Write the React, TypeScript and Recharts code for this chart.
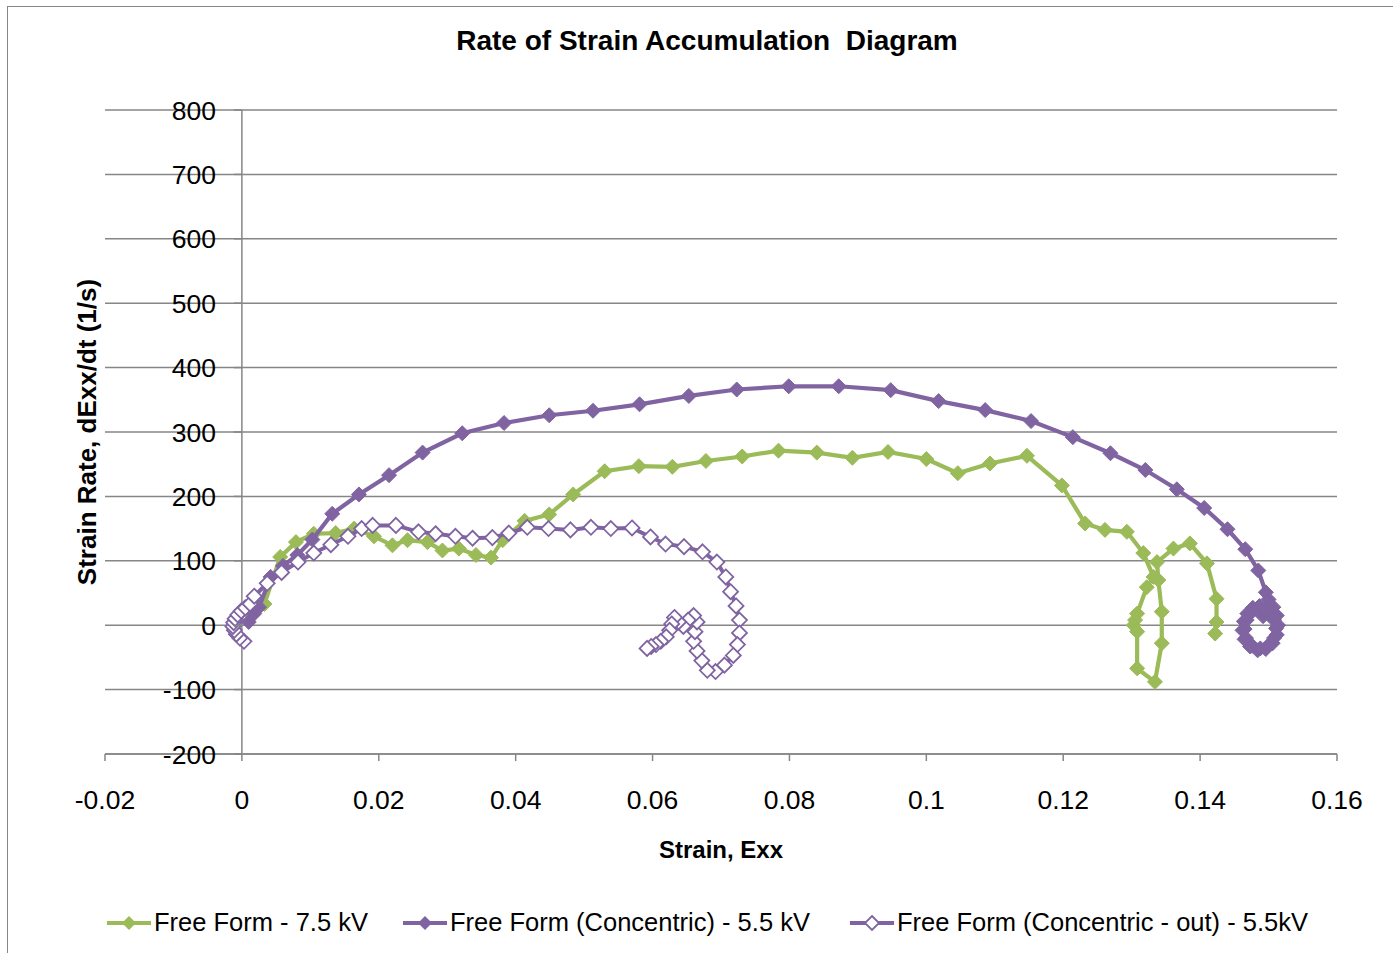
import React from 'react';
import { ScatterChart, Scatter, XAxis, YAxis, CartesianGrid, ReferenceLine } from 'recharts';

const GREEN = '#9BBB59';
const PURPLE = '#8064A2';
const GRID = '#868686';
const FONT = '"Liberation Sans", Arial, sans-serif';

const X_MIN = -0.02;
const X_MAX = 0.16;
const Y_MIN = -200;
const Y_MAX = 800;

const xTicks = [-0.02, 0, 0.02, 0.04, 0.06, 0.08, 0.1, 0.12, 0.14, 0.16];
const xTickLabels = ['-0.02', '0', '0.02', '0.04', '0.06', '0.08', '0.1', '0.12', '0.14', '0.16'];
const yTicks = [-200, -100, 0, 100, 200, 300, 400, 500, 600, 700, 800];

const seriesNames = [
  'Free Form - 7.5 kV',
  'Free Form (Concentric) - 5.5 kV',
  'Free Form (Concentric - out) - 5.5kV',
];

// Free Form - 7.5 kV : [strain, strain rate]
const freeForm75: [number, number][] = [
  [0.0015, 15], [0.0033, 33], [0.0056, 106], [0.0079, 129], [0.0105, 142], [0.0137, 143],
  [0.0164, 150], [0.0193, 138], [0.0220, 124], [0.0242, 132], [0.0271, 129], [0.0293, 116],
  [0.0317, 119], [0.0342, 109], [0.0364, 105], [0.0381, 132], [0.0413, 162], [0.0449, 172],
  [0.0484, 203], [0.0530, 239], [0.0580, 247], [0.0629, 246], [0.0678, 255], [0.0731, 262],
  [0.0784, 271], [0.0840, 268], [0.0892, 260], [0.0944, 269], [0.1000, 258], [0.1046, 236],
  [0.1093, 251], [0.1147, 263], [0.1198, 217], [0.1232, 158], [0.1261, 148], [0.1293, 145],
  [0.1317, 112], [0.1332, 75], [0.1322, 59], [0.1308, 18], [0.1305, 8], [0.1303, 0],
  [0.1308, -10], [0.1308, -67], [0.1334, -88], [0.1344, -28], [0.1344, 21], [0.1339, 70],
  [0.1337, 98], [0.1361, 119], [0.1385, 127], [0.1410, 96], [0.1424, 41], [0.1424, 5],
  [0.1422, -13],
];

// Free Form (Concentric) - 5.5 kV
const concentric55: [number, number][] = [
  [0.0010, 5], [0.0018, 18], [0.0025, 28], [0.0042, 75], [0.0060, 92], [0.0081, 109],
  [0.0103, 133], [0.0132, 173], [0.0171, 203], [0.0215, 233], [0.0264, 268], [0.0322, 298],
  [0.0383, 314], [0.0449, 326], [0.0513, 333], [0.0581, 343], [0.0653, 356], [0.0723, 366],
  [0.0799, 371], [0.0872, 371], [0.0948, 365], [0.1018, 348], [0.1086, 334], [0.1153, 317],
  [0.1214, 292], [0.1269, 267], [0.1320, 241], [0.1366, 211], [0.1406, 182], [0.1440, 149],
  [0.1466, 118], [0.1485, 85], [0.1496, 51], [0.1500, 40], [0.1507, 28], [0.1512, 15],
  [0.1514, 0], [0.1512, -15], [0.1506, -28], [0.1496, -37], [0.1484, -39], [0.1473, -33],
  [0.1465, -22], [0.1462, -8], [0.1464, 6], [0.1469, 18], [0.1477, 27], [0.1487, 30],
  [0.1494, 24], [0.1492, 14], [0.1500, 18], [0.1508, 8], [0.1511, -5], [0.1508, -20],
  [0.1500, -31], [0.1488, -36], [0.1476, -32], [0.1467, -20], [0.1465, -6], [0.1468, 8],
  [0.1475, 20], [0.1485, 26], [0.1493, 20],
];

// Free Form (Concentric - out) - 5.5kV
const concentricOut55: [number, number][] = [
  [0.0003, -25], [-0.0003, -20], [-0.0008, -14], [-0.0011, -8], [-0.0013, -2], [-0.0012, 4],
  [-0.0010, 10], [-0.0006, 16], [-0.0001, 22], [0.0005, 27], [0.0012, 33], [0.0018, 45],
  [0.0037, 65], [0.0058, 82], [0.0082, 98], [0.0105, 112], [0.0130, 125], [0.0155, 138],
  [0.0175, 150], [0.0191, 155], [0.0225, 155], [0.0258, 145], [0.0283, 142], [0.0312, 138],
  [0.0337, 135], [0.0366, 136], [0.0390, 143], [0.0417, 152], [0.0448, 150], [0.0480, 148],
  [0.0510, 152], [0.0539, 150], [0.0570, 151], [0.0597, 137], [0.0619, 126], [0.0646, 122],
  [0.0673, 114], [0.0694, 98], [0.0707, 75], [0.0714, 52], [0.0722, 30], [0.0727, 8],
  [0.0727, -12], [0.0724, -30], [0.0718, -47], [0.0705, -62], [0.0692, -72], [0.0680, -70],
  [0.0672, -55], [0.0665, -40], [0.0660, -25], [0.0662, -10], [0.0665, 5], [0.0660, 15],
  [0.0652, 8], [0.0645, -2], [0.0638, 5], [0.0632, 12], [0.0628, 2], [0.0625, -8],
  [0.0620, -18], [0.0612, -25], [0.0605, -30], [0.0598, -33], [0.0592, -36],
];

const toPoints = (arr: [number, number][]) => arr.map(([x, y]) => ({ x, y }));

const W = 1393;
const H = 953;
const PLOT_LEFT = 105;
const PLOT_RIGHT = 1337;
const PLOT_TOP = 110;
const PLOT_BOTTOM = 754;
const Y_AXIS_W = 40;
const X_AXIS_H = 60;
const AXIS_X = PLOT_LEFT + ((PLOT_RIGHT - PLOT_LEFT) * (0 - X_MIN)) / (X_MAX - X_MIN);

const diamond = (cx: number, cy: number, r: number) =>
  `${cx},${cy - r} ${cx + r},${cy} ${cx},${cy + r} ${cx - r},${cy}`;

const SolidDiamond = (color: string) => (props: any) => {
  const { cx, cy } = props;
  if (cx == null || cy == null) return <g />;
  return <polygon points={diamond(cx, cy, 7.5)} fill={color} stroke={color} strokeWidth={1} />;
};

const HollowDiamond = (props: any) => {
  const { cx, cy } = props;
  if (cx == null || cy == null) return <g />;
  return <polygon points={diamond(cx, cy, 7.5)} fill="#ffffff" stroke={PURPLE} strokeWidth={1.8} />;
};

const renderYTick = (props: any) => {
  const { y, payload } = props;
  return (
    <g>
      <line x1={AXIS_X - 8} x2={AXIS_X} y1={y} y2={y} stroke={GRID} strokeWidth={1.5} />
      <text
        x={AXIS_X - 26}
        y={y}
        dy="0.36em"
        textAnchor="end"
        fontFamily={FONT}
        fontSize={26.5}
        fill="#000"
      >
        {payload.value}
      </text>
    </g>
  );
};

const LegendIcon = ({ kind }: { kind: number }) => {
  const color = kind === 0 ? GREEN : PURPLE;
  return (
    <svg width={44} height={20} style={{ display: 'block' }}>
      <line x1={0} x2={44} y1={10} y2={10} stroke={color} strokeWidth={4} />
      {kind === 2 ? (
        <polygon points={diamond(22, 10, 7)} fill="#fff" stroke={PURPLE} strokeWidth={1.8} />
      ) : (
        <polygon points={diamond(22, 10, 7)} fill={color} />
      )}
    </svg>
  );
};

const legendLeft = [107, 403, 850];

export default function App() {
  return (
    <div style={{ position: 'relative', width: W, height: H, overflow: 'hidden', background: '#fff', fontFamily: FONT }}>
      <style>{'body{margin:0;overflow:hidden;}'}</style>
      <div
        style={{
          position: 'absolute',
          left: 7,
          top: 6,
          width: W,
          height: H,
          borderLeft: `1px solid ${GRID}`,
          borderTop: `1px solid ${GRID}`,
        }}
      />
      <div style={{ position: 'absolute', left: 0, top: 0 }}>
        <ScatterChart
          width={W}
          height={H}
          margin={{ top: PLOT_TOP, right: W - PLOT_RIGHT, bottom: H - PLOT_BOTTOM - X_AXIS_H, left: PLOT_LEFT - Y_AXIS_W }}
        >
          <CartesianGrid horizontal vertical={false} stroke={GRID} strokeWidth={1.5} />
          <XAxis
            type="number"
            dataKey="x"
            domain={[X_MIN, X_MAX]}
            ticks={xTicks}
            tickFormatter={(v: number) => xTickLabels[xTicks.findIndex((t) => Math.abs(t - v) < 1e-9)] ?? String(v)}
            allowDataOverflow
            height={X_AXIS_H}
            stroke={GRID}
            strokeWidth={1.5}
            tickSize={7}
            tickMargin={29}
            tick={{ fill: '#000', fontSize: 26.5, fontFamily: FONT }}
          />
          <YAxis
            type="number"
            dataKey="y"
            domain={[Y_MIN, Y_MAX]}
            ticks={yTicks}
            allowDataOverflow
            width={Y_AXIS_W}
            axisLine={false}
            tickLine={false}
            tick={renderYTick}
            interval={0}
          />
          <ReferenceLine x={0} stroke={GRID} strokeWidth={1.5} />
          <Scatter
            name={seriesNames[0]}
            data={toPoints(freeForm75)}
            line={{ stroke: GREEN, strokeWidth: 4.2 }}
            lineType="joint"
            shape={SolidDiamond(GREEN)}
            isAnimationActive={false}
          />
          <Scatter
            name={seriesNames[1]}
            data={toPoints(concentric55)}
            line={{ stroke: PURPLE, strokeWidth: 4.2 }}
            lineType="joint"
            shape={SolidDiamond(PURPLE)}
            isAnimationActive={false}
          />
          <Scatter
            name={seriesNames[2]}
            data={toPoints(concentricOut55)}
            line={{ stroke: PURPLE, strokeWidth: 4 }}
            lineType="joint"
            shape={HollowDiamond}
            isAnimationActive={false}
          />
        </ScatterChart>
      </div>
      <div
        style={{
          position: 'absolute',
          left: 0,
          width: 1414,
          top: 25,
          textAlign: 'center',
          fontWeight: 'bold',
          fontSize: 28,
          whiteSpace: 'pre',
          color: '#000',
        }}
      >
        {'Rate of Strain Accumulation  Diagram'}
      </div>
      <div
        style={{
          position: 'absolute',
          left: 0,
          width: 1442,
          top: 836,
          textAlign: 'center',
          fontWeight: 'bold',
          fontSize: 24,
          color: '#000',
        }}
      >
        Strain, Exx
      </div>
      <div
        style={{
          position: 'absolute',
          left: 87,
          top: 432,
          transform: 'translate(-50%, -50%) rotate(-90deg)',
          fontWeight: 'bold',
          fontSize: 26,
          whiteSpace: 'nowrap',
          color: '#000',
        }}
      >
        Strain Rate, dExx/dt (1/s)
      </div>
      {seriesNames.map((name, i) => (
        <div
          key={name}
          style={{
            position: 'absolute',
            left: legendLeft[i],
            top: 908,
            display: 'flex',
            alignItems: 'center',
            fontSize: 25.5,
            color: '#000',
            whiteSpace: 'nowrap',
          }}
        >
          <LegendIcon kind={i} />
          <span style={{ marginLeft: 3 }}>{name}</span>
        </div>
      ))}
    </div>
  );
}
